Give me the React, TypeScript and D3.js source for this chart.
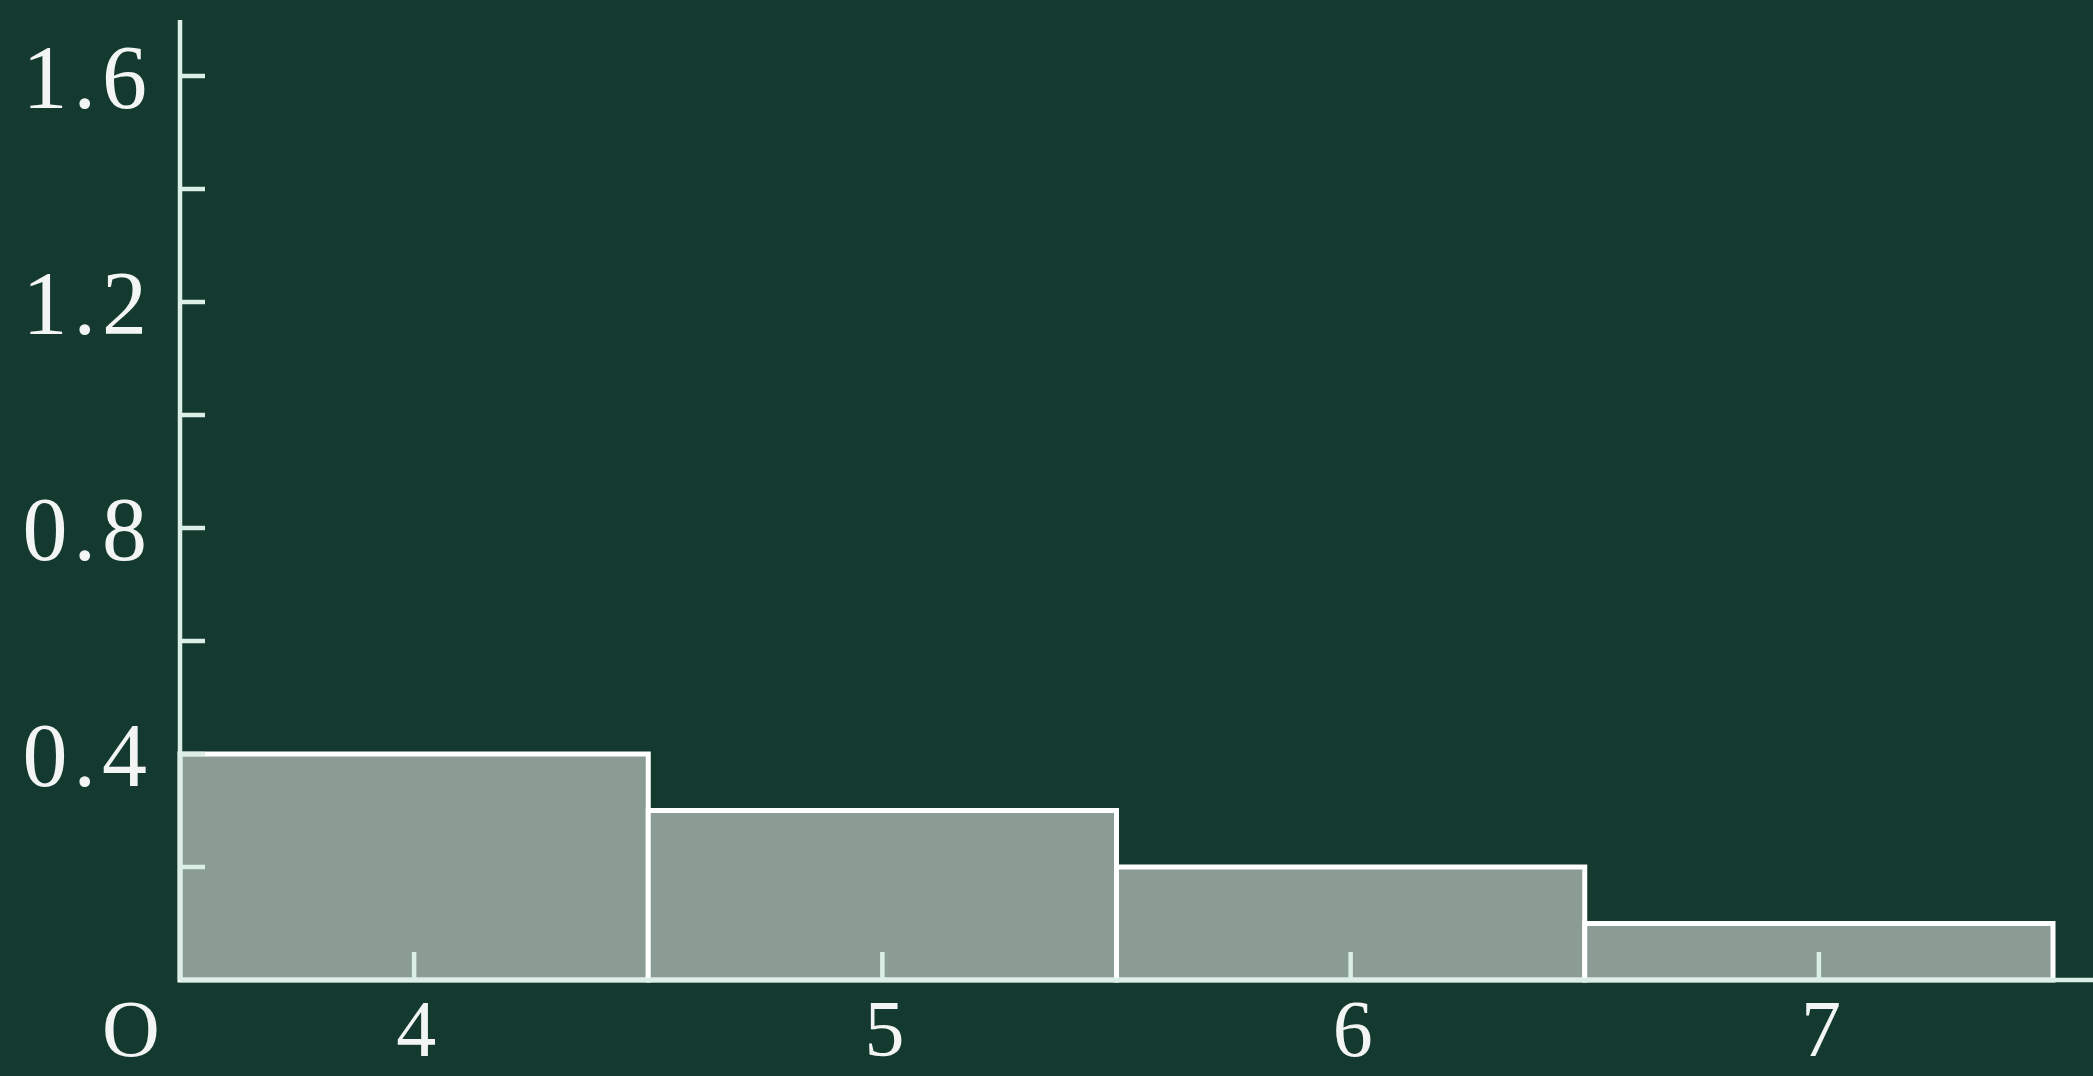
import React, { useEffect, useRef } from "react";
import * as d3 from "d3";

const binStarts = [3.5, 4.5, 5.5, 6.5];
const binEnds = [4.5, 5.5, 6.5, 7.5];
const densities = [0.4, 0.3, 0.2, 0.1];
const xTicks = [4, 5, 6, 7];
const yTicks = [0.2, 0.4, 0.6, 0.8, 1.0, 1.2, 1.4, 1.6];
const yLabels = ["0.4", "0.8", "1.2", "1.6"];

const App = () => {
  const ref = useRef(null);

  useEffect(() => {
    draw();
  }, []);

  const draw = () => {
    const el = ref.current;
    if (!el) return;
    d3.select(el).select("svg").remove();

    const width = 2093,
      height = 1076;
    const left = 180,
      bottom = 980,
      top = 20;
    const font = "'Liberation Serif', 'DejaVu Serif', serif";
    const ink = "#f2f5f3";
    const axisColor = "#dcefe7";

    const x = d3.scaleLinear().domain([3.5, 7.5]).range([left, 2053]);
    const y = d3.scaleLinear().domain([0, 1.6]).range([bottom, 76]);

    const svg = d3
      .select(el)
      .append("svg")
      .attr("width", width)
      .attr("height", height)
      .style("display", "block");

    svg
      .append("rect")
      .attr("width", width)
      .attr("height", height)
      .attr("fill", "#14392f");

    // bars
    svg
      .selectAll("rect.bar")
      .data(densities)
      .enter()
      .append("rect")
      .attr("class", "bar")
      .attr("x", (d, i) => x(binStarts[i]))
      .attr("width", (d, i) => x(binEnds[i]) - x(binStarts[i]))
      .attr("y", (d) => y(d))
      .attr("height", (d) => y(0) - y(d))
      .attr("fill", "#8a9c94")
      .attr("stroke", "#ffffff")
      .attr("stroke-width", 5);

    // axes
    svg
      .append("line")
      .attr("x1", left)
      .attr("x2", width)
      .attr("y1", bottom)
      .attr("y2", bottom)
      .attr("stroke", axisColor)
      .attr("stroke-width", 4.5);

    svg
      .append("line")
      .attr("x1", left)
      .attr("x2", left)
      .attr("y1", bottom)
      .attr("y2", top)
      .attr("stroke", axisColor)
      .attr("stroke-width", 4.5);

    // y ticks (to the right of the axis)
    svg
      .selectAll("line.ytick")
      .data(yTicks)
      .enter()
      .append("line")
      .attr("x1", left)
      .attr("x2", left + 25)
      .attr("y1", (d) => y(d))
      .attr("y2", (d) => y(d))
      .attr("stroke", axisColor)
      .attr("stroke-width", 4.5);

    svg
      .selectAll("text.ylab")
      .data(yLabels)
      .enter()
      .append("text")
      .attr("x", 153)
      .attr("y", (d) => y(+d))
      .attr("dy", "0.36em")
      .attr("text-anchor", "end")
      .attr("fill", ink)
      .style("font-family", font)
      .style("font-size", "90px")
      .style("letter-spacing", "6px")
      .text((d) => d);

    // x ticks (pointing up)
    svg
      .selectAll("line.xtick")
      .data(xTicks)
      .enter()
      .append("line")
      .attr("x1", (d) => x(d))
      .attr("x2", (d) => x(d))
      .attr("y1", bottom)
      .attr("y2", bottom - 28)
      .attr("stroke", axisColor)
      .attr("stroke-width", 4.5);

    svg
      .selectAll("text.xlab")
      .data(xTicks)
      .enter()
      .append("text")
      .attr("x", (d) => x(d) + 2)
      .attr("y", 1056)
      .attr("text-anchor", "middle")
      .attr("fill", ink)
      .style("font-family", font)
      .style("font-size", "80px")
      .text((d) => d);

    svg
      .append("text")
      .attr("x", 131)
      .attr("y", 1056)
      .attr("text-anchor", "middle")
      .attr("fill", ink)
      .style("font-family", font)
      .style("font-size", "80px")
      .text("O");
  };

  return (
    <div
      ref={ref}
      style={{ position: "absolute", left: 0, top: 0, width: 2093, height: 1076 }}
    />
  );
};

export default App;
